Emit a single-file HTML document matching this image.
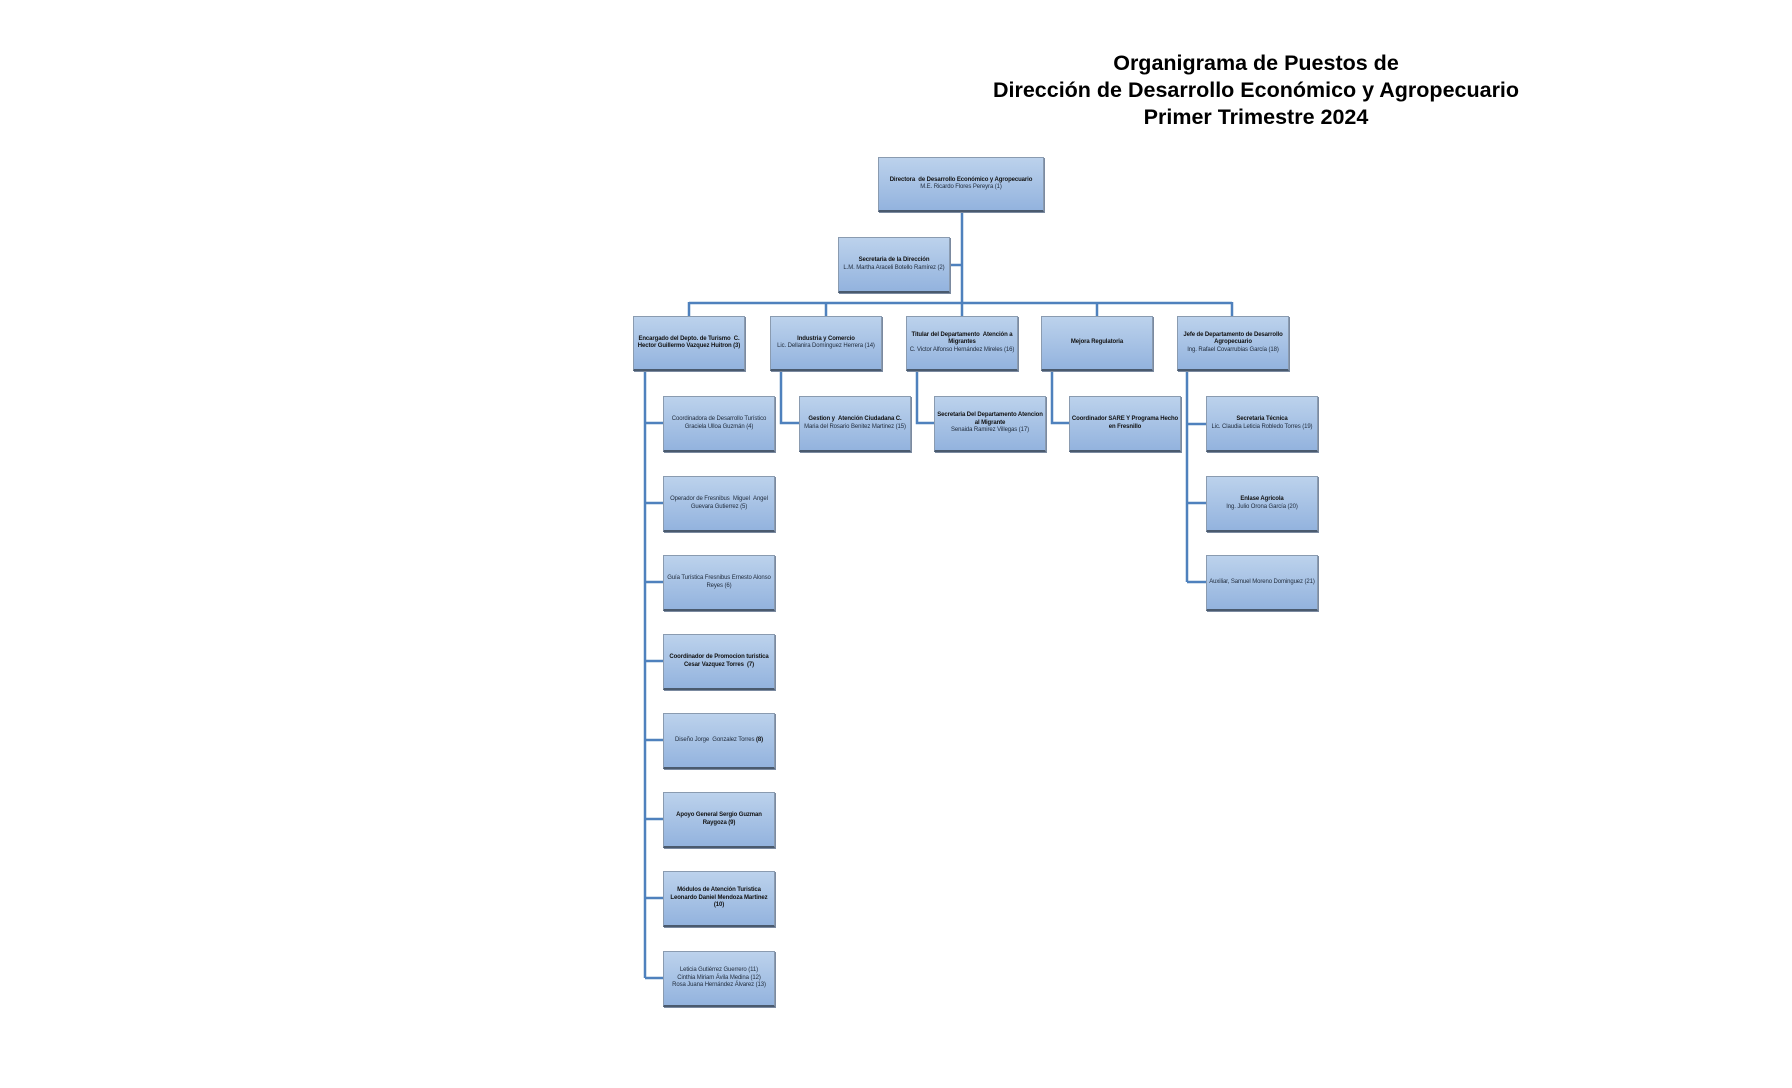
<!DOCTYPE html>
<html><head><meta charset="utf-8"><style>
body{margin:0;width:1792px;height:1088px;background:#fff;position:relative;overflow:hidden;font-family:"Liberation Sans",sans-serif}
.t{position:absolute;left:956px;width:600px;text-align:center;font-weight:bold;font-size:21.5px;color:#000;line-height:27px}
.b{position:absolute;box-sizing:border-box;background:linear-gradient(#bcd2ec,#93b3de);border:1px solid #8a9bb0;border-bottom:2px solid #4a5a6e;box-shadow:1px 1px 0 #7b8aa0;display:flex;flex-direction:column;justify-content:center;align-items:center;text-align:center;font-size:6px;line-height:7.5px;color:#1f2a3a;padding:0 1px;letter-spacing:-0.1px}
.b b{font-weight:bold;color:#111}
svg{position:absolute;left:0;top:0}
</style></head><body>
<div class="t" style="top:50px">Organigrama de Puestos de<br>Dirección de Desarrollo Económico y Agropecuario<br>Primer Trimestre 2024</div>
<svg width="1792" height="1088"><g stroke="#4f81bd" stroke-width="2.5" fill="none">
<line x1="962" y1="212" x2="962" y2="316"/>
<line x1="950" y1="265" x2="962" y2="265"/>
<line x1="689" y1="303" x2="1232" y2="303"/>
<line x1="689" y1="302" x2="689" y2="316"/>
<line x1="826" y1="302" x2="826" y2="316"/>
<line x1="1097" y1="302" x2="1097" y2="316"/>
<line x1="1232" y1="302" x2="1232" y2="316"/>
<line x1="645" y1="371" x2="645" y2="978"/>
<line x1="645" y1="423" x2="663" y2="423"/><line x1="645" y1="503" x2="663" y2="503"/><line x1="645" y1="582" x2="663" y2="582"/><line x1="645" y1="661" x2="663" y2="661"/><line x1="645" y1="740" x2="663" y2="740"/><line x1="645" y1="819" x2="663" y2="819"/><line x1="645" y1="898" x2="663" y2="898"/><line x1="645" y1="978" x2="663" y2="978"/>
<polyline points="781,371 781,423 799,423"/>
<polyline points="917,371 917,423 934,423"/>
<polyline points="1052,371 1052,423 1069,423"/>
<line x1="1187" y1="371" x2="1187" y2="582"/>
<line x1="1187" y1="424" x2="1206" y2="424"/><line x1="1187" y1="503" x2="1206" y2="503"/><line x1="1187" y1="582" x2="1206" y2="582"/>
</g></svg>
<div class="b" style="left:878px;top:157px;width:166px;height:55px"><b>Directora &nbsp;de Desarrollo Económico y Agropecuario</b>M.E. Ricardo Flores Pereyra (1)</div>
<div class="b" style="left:838px;top:237px;width:112px;height:56px"><b>Secretaria de la Dirección</b>L.M. Martha Araceli Botello Ramírez (2)</div>
<div class="b" style="left:633px;top:316px;width:112px;height:55px"><b>Encargado del Depto. de Turismo &nbsp;C. Hector Guillermo Vazquez Huitron (3)</b></div>
<div class="b" style="left:770px;top:316px;width:112px;height:55px"><b>Industria y Comercio</b>Lic. Dellanira Domínguez Herrera (14)</div>
<div class="b" style="left:906px;top:316px;width:112px;height:55px"><b>Titular del Departamento &nbsp;Atención a Migrantes</b>C. Victor Alfonso Hernández Mireles (16)</div>
<div class="b" style="left:1041px;top:316px;width:112px;height:55px"><b>Mejora Regulatoria</b></div>
<div class="b" style="left:1177px;top:316px;width:112px;height:55px"><b>Jefe de Departamento de Desarrollo Agropecuario</b>Ing. Rafael Covarrubias García (18)</div>
<div class="b" style="left:663px;top:396px;width:112px;height:56px">Coordinadora de Desarrollo Turístico Graciela Ulloa Guzmán (4)</div>
<div class="b" style="left:663px;top:476px;width:112px;height:56px">Operador de Fresnibus &nbsp;Miguel &nbsp;Angel Guevara Gutierrez (5)</div>
<div class="b" style="left:663px;top:555px;width:112px;height:56px">Guía Turística Fresnibus Ernesto Alonso Reyes (6)</div>
<div class="b" style="left:663px;top:634px;width:112px;height:56px"><b>Coordinador de Promocion turistica Cesar Vazquez Torres &nbsp;(7)</b></div>
<div class="b" style="left:663px;top:713px;width:112px;height:56px"><span>Diseño Jorge &nbsp;Gonzalez Torres <b>(8)</b></span></div>
<div class="b" style="left:663px;top:792px;width:112px;height:56px"><b>Apoyo General Sergio Guzman Raygoza (9)</b></div>
<div class="b" style="left:663px;top:871px;width:112px;height:56px"><b>Módulos de Atención Turistica Leonardo Daniel Mendoza Martinez (10)</b></div>
<div class="b" style="left:663px;top:951px;width:112px;height:56px">Leticia Gutiérrez Guerrero (11)<br>Cinthia Miriam Ávila Medina (12)<br>Rosa Juana Hernández Álvarez (13)</div>
<div class="b" style="left:799px;top:396px;width:112px;height:56px"><b>Gestion y &nbsp;Atención Ciudadana C.</b>Maria del Rosario Benitez Martinez (15)</div>
<div class="b" style="left:934px;top:396px;width:112px;height:56px"><b>Secretaria Del Departamento Atencion al Migrante</b>Senaida Ramirez Villegas (17)</div>
<div class="b" style="left:1069px;top:396px;width:112px;height:56px"><b>Coordinador SARE Y Programa Hecho en Fresnillo</b></div>
<div class="b" style="left:1206px;top:396px;width:112px;height:56px"><b>Secretaria Técnica</b>Lic. Claudia Leticia Robledo Torres (19)</div>
<div class="b" style="left:1206px;top:476px;width:112px;height:56px"><b>Enlase Agricola</b>Ing. Julio Orona García (20)</div>
<div class="b" style="left:1206px;top:555px;width:112px;height:56px">Auxiliar, Samuel Moreno Dominguez (21)</div>
</body></html>
